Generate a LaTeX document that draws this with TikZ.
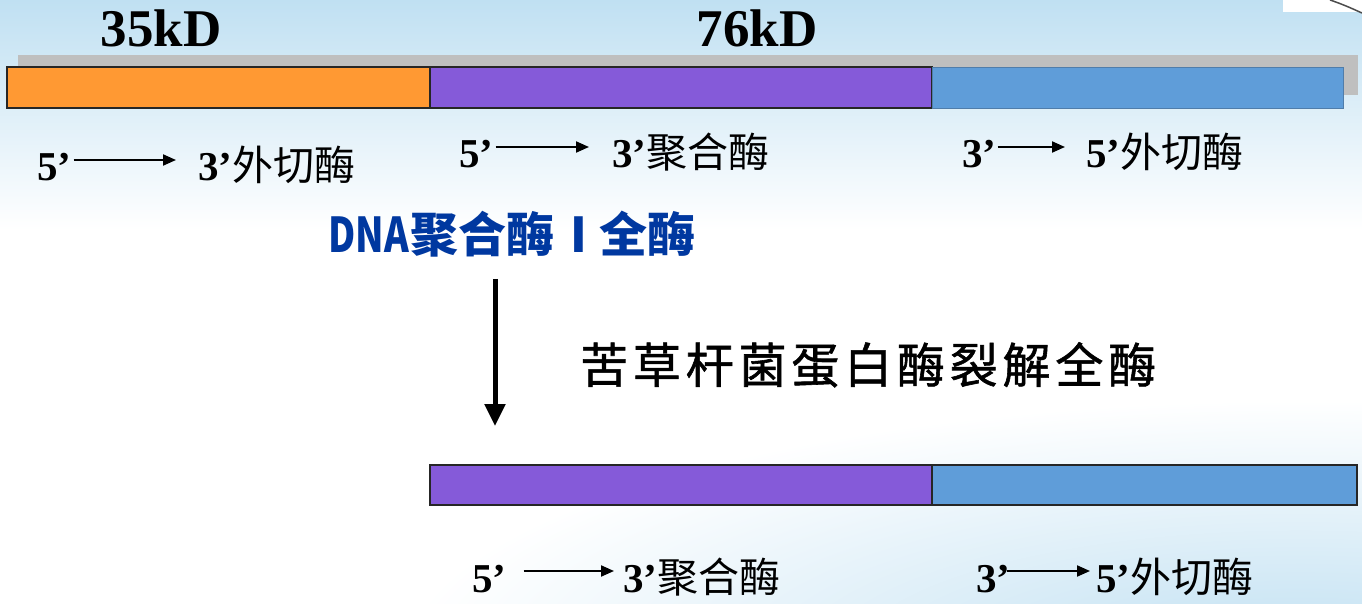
\documentclass[tikz,border=0pt]{standalone}
\usepackage{fontspec}
\setmainfont{Liberation Serif}
\newfontfamily\cjk{Noto Sans CJK SC}
\newfontfamily\cjkwide{Noto Sans CJK SC}[LetterSpace=10,FakeBold=1.2]
\usetikzlibrary{arrows.meta}
\definecolor{orangebar}{RGB}{255,153,51}
\definecolor{purplebar}{RGB}{133,90,217}
\definecolor{bluebar}{RGB}{95,157,217}
\definecolor{blueedge}{RGB}{80,125,170}
\definecolor{titleblue}{RGB}{0,56,160}
\definecolor{sky}{RGB}{192,224,242}
\definecolor{shadowgray}{RGB}{191,191,191}
\newcommand{\lbl}[2]{{\bfseries #1}{\cjk\mdseries #2}}
\begin{document}
\begin{tikzpicture}[x=1pt,y=-1pt,
  bar/.style={draw=black!85,line width=1.2pt,inner sep=0pt,outer sep=0pt,anchor=north west,minimum height=41},
  kd/.style={font=\fontsize{53}{53}\selectfont\bfseries,inner sep=0pt,anchor=base},
  lab/.style={font=\fontsize{41}{41}\selectfont,inner sep=0pt,anchor=base west},
  thinarrow/.style={line width=2pt,-{Triangle[length=13pt,width=11pt]}},
  bigarrow/.style={line width=5pt,-{Triangle[length=22pt,width=20pt]}}]
\useasboundingbox (0,0) rectangle (1362,604);
% background
\fill[white] (0,0) rectangle (1362,604);
\shade[top color=sky, bottom color=white] (0,0) rectangle (1362,230);
\shade[inner color=sky, outer color=white] (1300,660) ellipse [x radius=900, y radius=260];
\fill[white] (1283,0) rectangle (1362,12);
\draw[black!70,line width=1.5pt] (1330,0) .. controls (1345,5) and (1355,10) .. (1362,13);
% shadow bar
\fill[shadowgray] (18,55) rectangle (1358,95);
% top bars
\node[bar,fill=orangebar,minimum width=423] (orange) at (7,67) {};
\node[bar,fill=purplebar,minimum width=502] (purple) at (orange.north east) {};
\node[bar,fill=bluebar,draw=blueedge,line width=0.8pt,minimum width=411] (blue) at (purple.north east) {};
% kD labels
\node[kd] (k35) at (161,47) {35kD};
\node[kd] (k76) at (757,47) {76kD};
% row labels top
\node[lab] (a1) at (37,181) {\lbl{5’}{}};
\node[lab] (a2) at (198,181) {\lbl{3’}{外切酶}};
\draw[thinarrow] ([xshift=2pt,yshift=21pt]a1.base east) -- ([xshift=-22pt,yshift=21pt]a2.base west);
\node[lab] (b1) at (459,168) {\lbl{5’}{}};
\node[lab] (b2) at (612,168) {\lbl{3’}{聚合酶}};
\draw[thinarrow] ([xshift=2pt,yshift=21pt]b1.base east) -- ([xshift=-23pt,yshift=21pt]b2.base west);
\node[lab] (c1) at (962,168) {\lbl{3’}{}};
\node[lab] (c2) at (1086,168) {\lbl{5’}{外切酶}};
\draw[thinarrow] ([xshift=1pt,yshift=21pt]c1.base east) -- ([xshift=-21pt,yshift=21pt]c2.base west);
% title
\node[font=\fontsize{48}{48}\selectfont\cjk\bfseries,text=titleblue,inner sep=0pt,anchor=base west] (title) at (328,252) {\scalebox{0.78}[1]{DNA}\hspace{2pt}聚合酶\hspace{16pt}I\hspace{12pt}全酶};
\coordinate (arrowend) at (495,426);
\draw[bigarrow] ([yshift=-22pt]title.south -| arrowend) -- (arrowend);
\node[font=\fontsize{48}{48}\selectfont\cjkwide,inner sep=0pt,anchor=base west] (cleave) at (580,383) {苦草杆菌蛋白酶裂解全酶};
% bottom bars
\node[bar,fill=purplebar,minimum width=502,minimum height=40] (purple2) at (430,465) {};
\node[bar,fill=bluebar,minimum width=425,minimum height=40] (blue2) at (purple2.north east) {};
% bottom labels
\node[lab] (d1) at (472,592) {\lbl{5’}{}};
\node[lab] (d2) at (623,592) {\lbl{3’}{聚合酶}};
\draw[thinarrow] ([xshift=17pt,yshift=21pt]d1.base east) -- ([xshift=-9pt,yshift=21pt]d2.base west);
\node[lab] (e1) at (976,592) {\lbl{3’}{}};
\node[lab] (e2) at (1096,592) {\lbl{5’}{外切酶}};
\draw[thinarrow] ([xshift=-4pt,yshift=21pt]e1.base east) -- ([xshift=-6pt,yshift=21pt]e2.base west);
\end{tikzpicture}
\end{document}
